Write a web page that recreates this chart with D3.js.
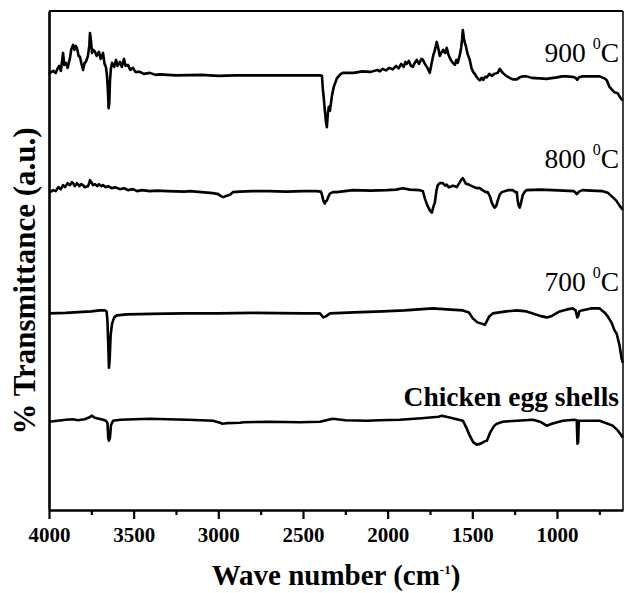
<!DOCTYPE html>
<html>
<head>
<meta charset="utf-8">
<script src="https://cdn.jsdelivr.net/npm/d3@7"></script>
<style>
  body { margin: 0; background: #fff; }
  svg { display: block; font-family: "Liberation Serif", "Times New Roman", serif; }
</style>
</head>
<body>
<script>
// FTIR spectra, [wave number (cm-1), transmittance (a.u.)]
const s900 = [
  [4000, 87.8], [3994, 87.6], [3975, 88.0], [3960, 87.6], [3953, 88.2], [3940, 89.0], [3930, 88.0],
  [3917, 91.6], [3910, 89.2], [3900, 89.6], [3890, 88.6], [3876, 90.6], [3868, 92.4], [3858, 93.2],
  [3850, 92.2], [3842, 93.0], [3835, 92.6], [3825, 91.0], [3817, 90.8], [3808, 89.4], [3799, 88.2],
  [3790, 89.6], [3782, 89.8], [3770, 91.0], [3762, 93.0], [3758, 95.6], [3752, 94.0], [3746, 91.6],
  [3738, 92.2], [3728, 91.8], [3718, 91.0], [3705, 91.8], [3695, 90.4], [3681, 91.6], [3672, 89.4],
  [3664, 88.8], [3658, 87.2], [3652, 84.0], [3648, 80.5], [3644, 81.5], [3640, 86.0], [3634, 88.6],
  [3628, 89.6], [3615, 88.8], [3604, 90.2], [3595, 89.0], [3581, 89.8], [3570, 88.8], [3557, 90.4],
  [3548, 89.0], [3534, 89.2], [3520, 88.2], [3504, 88.6], [3490, 87.8], [3463, 87.8], [3440, 87.4],
  [3404, 87.6], [3370, 87.2], [3345, 87.3], [3250, 87.1], [3100, 87.2], [3000, 87.0], [2900, 87.1],
  [2700, 87.1], [2500, 87.1], [2400, 87.1], [2388, 87.0], [2383, 84.5], [2377, 82.5], [2371, 80.1],
  [2365, 78.0], [2359, 76.7], [2353, 79.5], [2347, 80.8], [2341, 80.0], [2335, 81.5], [2329, 83.0],
  [2318, 84.8], [2300, 86.5], [2280, 87.3], [2265, 87.6], [2200, 87.6], [2150, 87.9], [2100, 87.8],
  [2060, 88.2], [2046, 87.9], [2030, 88.4], [2010, 88.1], [1990, 88.6], [1970, 88.3], [1950, 89.0],
  [1935, 88.5], [1920, 89.4], [1905, 88.8], [1895, 89.8], [1887, 89.4], [1875, 90.0], [1862, 89.0],
  [1851, 88.8], [1840, 89.6], [1828, 90.2], [1815, 89.4], [1800, 90.4], [1792, 90.2], [1780, 89.4],
  [1765, 88.6], [1751, 87.6], [1740, 89.6], [1730, 91.2], [1722, 92.0], [1710, 93.8], [1700, 92.4],
  [1692, 91.0], [1680, 91.8], [1672, 92.2], [1660, 91.6], [1651, 92.6], [1642, 91.4], [1633, 90.6],
  [1620, 89.8], [1603, 89.2], [1594, 90.2], [1586, 89.6], [1575, 91.0], [1566, 92.6], [1560, 94.4],
  [1556, 96.2], [1550, 94.6], [1544, 93.6], [1538, 93.0], [1528, 91.4], [1515, 90.2], [1505, 88.6],
  [1495, 87.8], [1485, 87.4], [1475, 86.8], [1465, 86.4], [1456, 86.1], [1445, 86.6], [1435, 86.2],
  [1425, 86.8], [1414, 86.7], [1400, 87.4], [1385, 87.0], [1370, 87.4], [1350, 87.6], [1338, 88.4],
  [1320, 87.6], [1300, 87.0], [1280, 86.6], [1261, 86.3], [1237, 86.3], [1220, 86.7], [1200, 86.9],
  [1178, 86.9], [1150, 86.6], [1100, 86.5], [1060, 86.4], [1043, 86.5], [1000, 86.7], [970, 86.9],
  [942, 86.9], [910, 86.8], [890, 86.6], [880, 86.2], [870, 86.7], [848, 86.9], [800, 86.9],
  [748, 86.9], [720, 86.5], [706, 86.1], [690, 84.8], [671, 84.1], [660, 83.7], [641, 83.5],
  [625, 82.6], [612, 82.1]
];

const s800 = [
  [4000, 63.7], [3994, 63.7], [3975, 64.1], [3960, 63.9], [3945, 64.7], [3930, 64.3], [3917, 65.1],
  [3905, 64.7], [3890, 65.5], [3876, 65.1], [3865, 65.7], [3858, 65.5], [3848, 64.9], [3835, 65.5],
  [3820, 64.9], [3810, 65.3], [3799, 65.1], [3790, 64.7], [3770, 64.9], [3762, 65.5], [3758, 66.1],
  [3750, 65.7], [3740, 65.1], [3728, 65.3], [3715, 64.9], [3705, 65.3], [3690, 64.9], [3681, 65.1],
  [3665, 64.7], [3650, 64.9], [3630, 64.5], [3610, 64.7], [3581, 64.3], [3557, 64.5], [3534, 64.1],
  [3504, 64.3], [3480, 63.9], [3450, 64.1], [3404, 63.9], [3362, 64.0], [3300, 63.9], [3200, 63.8],
  [3168, 63.9], [3100, 63.7], [3032, 63.5], [3000, 63.3], [2985, 62.9], [2970, 62.7], [2950, 63.0],
  [2930, 63.2], [2914, 63.7], [2873, 63.8], [2800, 63.9], [2700, 63.9], [2600, 63.8], [2500, 63.9],
  [2420, 63.9], [2394, 63.8], [2388, 63.2], [2380, 62.0], [2371, 61.4], [2365, 61.9], [2359, 62.0],
  [2350, 62.8], [2341, 63.4], [2324, 63.7], [2300, 63.7], [2206, 64.1], [2100, 64.0], [2005, 64.1],
  [1950, 64.2], [1910, 64.5], [1870, 64.2], [1810, 64.1], [1792, 63.9], [1780, 62.4], [1765, 61.0],
  [1750, 60.0], [1739, 59.6], [1728, 61.0], [1721, 61.6], [1712, 64.0], [1704, 65.1], [1692, 65.5],
  [1674, 65.5], [1660, 65.0], [1651, 65.2], [1640, 64.7], [1633, 64.7], [1615, 65.0], [1603, 64.9],
  [1592, 64.7], [1575, 65.6], [1565, 66.2], [1556, 66.5], [1548, 66.0], [1538, 65.4], [1525, 65.3],
  [1515, 65.1], [1495, 64.8], [1475, 64.5], [1456, 64.5], [1440, 64.1], [1420, 63.7], [1409, 63.7],
  [1395, 62.8], [1385, 61.6], [1375, 60.9], [1367, 60.6], [1358, 61.0], [1350, 62.0], [1338, 63.2],
  [1326, 63.7], [1290, 64.1], [1261, 64.1], [1245, 63.7], [1237, 63.7], [1232, 62.0], [1226, 61.0],
  [1220, 60.6], [1212, 61.6], [1202, 63.1], [1190, 63.8], [1178, 64.1], [1100, 64.2], [1025, 64.1],
  [960, 64.0], [900, 63.9], [883, 63.3], [870, 63.8], [848, 64.1], [800, 64.0], [730, 63.9],
  [700, 63.6], [671, 62.7], [650, 62.0], [630, 61.0], [612, 60.2]
];

const s700 = [
  [4000, 39.4], [3900, 39.5], [3800, 39.7], [3750, 39.8], [3700, 40.0], [3670, 40.0], [3660, 39.8],
  [3655, 38.0], [3650, 33.0], [3646, 28.5], [3642, 30.0], [3636, 35.0], [3628, 37.3], [3615, 38.6],
  [3600, 39.0], [3540, 39.2], [3400, 39.3], [3200, 39.4], [3000, 39.4], [2800, 39.5], [2500, 39.4],
  [2400, 39.4], [2380, 38.6], [2365, 38.8], [2340, 39.4], [2200, 39.6], [2028, 39.8], [1900, 40.0],
  [1733, 40.4], [1650, 40.2], [1556, 40.0], [1520, 39.6], [1497, 38.4], [1470, 37.6], [1440, 37.3],
  [1426, 37.1], [1415, 37.8], [1400, 38.8], [1379, 39.4], [1300, 39.8], [1237, 40.0], [1180, 39.8],
  [1143, 39.4], [1100, 38.9], [1060, 38.6], [1030, 38.9], [984, 39.8], [940, 40.2], [907, 40.4],
  [890, 40.0], [880, 38.6], [875, 38.8], [868, 39.8], [854, 40.0], [800, 40.4], [748, 40.4],
  [720, 39.6], [700, 38.8], [677, 37.5], [660, 36.0], [647, 35.3], [630, 32.9], [618, 30.3],
  [612, 29.5]
];

const sEgg = [
  [4000, 17.7], [3950, 17.9], [3900, 18.1], [3860, 18.2], [3830, 18.0], [3790, 18.2], [3760, 18.6],
  [3746, 18.9], [3730, 18.5], [3705, 18.3], [3680, 18.1], [3664, 17.9], [3655, 17.5], [3650, 14.5],
  [3646, 13.9], [3640, 14.5], [3634, 17.0], [3622, 17.9], [3580, 18.1], [3404, 18.3], [3300, 18.2],
  [3185, 18.1], [3100, 18.0], [3032, 17.9], [2990, 17.5], [2979, 17.3], [2950, 17.4], [2873, 17.5],
  [2850, 17.6], [2700, 17.7], [2518, 17.6], [2400, 17.7], [2324, 18.3], [2250, 18.0], [2123, 17.9],
  [2050, 18.0], [1928, 18.1], [1800, 18.4], [1700, 18.7], [1680, 18.9], [1640, 18.6], [1556, 17.9],
  [1535, 16.5], [1515, 14.9], [1495, 13.6], [1474, 13.1], [1450, 13.3], [1430, 13.7], [1414, 13.9],
  [1395, 15.5], [1370, 16.9], [1355, 17.3], [1320, 17.7], [1237, 17.9], [1143, 18.1], [1100, 17.7],
  [1060, 16.9], [1030, 17.3], [966, 17.9], [900, 18.1], [883, 18.0], [879, 13.3], [875, 13.5],
  [871, 17.9], [854, 17.9], [748, 17.9], [700, 17.3], [671, 16.9], [640, 15.9], [618, 14.9],
  [612, 14.5]
];

const seriesNames = ["900", "800", "700", "Chicken egg shells"];
const seriesData = [s900, s800, s700, sEgg];
const majorTicks = [4000, 3500, 3000, 2500, 2000, 1500, 1000];
const minorTicks = [3750, 3250, 2750, 2250, 1750, 1250, 750];

const w = 624;
const h = 593;
const m = { left: 49, right: 623, top: 11, bottom: 510 };

const x = d3.scaleLinear().domain([4000, 610]).range([m.left, m.right]);
const y = d3.scaleLinear().domain([0, 100]).range([m.bottom, m.top]);

const svg = d3.select("body").append("svg").attr("width", w).attr("height", h);
svg.append("rect").attr("width", w).attr("height", h).attr("fill", "#fff");

// frame (top + right)
svg.append("line").attr("x1", m.left).attr("x2", m.right).attr("y1", m.top).attr("y2", m.top)
  .attr("stroke", "#000").attr("stroke-width", 2);
svg.append("line").attr("x1", m.right).attr("x2", m.right).attr("y1", m.top).attr("y2", m.bottom)
  .attr("stroke", "#000").attr("stroke-width", 1.5);

// spectra
const line = d3.line().x(d => x(d[0])).y(d => y(d[1]));
svg.append("g").selectAll("path").data(seriesData).enter().append("path")
  .attr("d", line)
  .attr("fill", "none")
  .attr("stroke", "#000")
  .attr("stroke-width", 2.6)
  .attr("stroke-linejoin", "round");

// X axis
const xAxis = d3.axisBottom(x).tickValues(majorTicks).tickSize(9).tickSizeOuter(0).tickFormat(d3.format("d"));
const gx = svg.append("g").attr("transform", "translate(0," + m.bottom + ")").call(xAxis);
gx.select(".domain").attr("stroke-width", 2.6);
gx.selectAll(".tick line").attr("stroke-width", 2.2);
gx.selectAll(".tick text").attr("y", 32).attr("dy", 0)
  .attr("font-family", "Liberation Serif, serif").attr("font-size", 21).attr("font-weight", "bold").attr("fill", "#000");

const xMinor = d3.axisBottom(x).tickValues(minorTicks).tickSize(5).tickSizeOuter(0).tickFormat("");
const gm = svg.append("g").attr("transform", "translate(0," + m.bottom + ")").call(xMinor);
gm.select(".domain").remove();
gm.selectAll(".tick line").attr("stroke-width", 2.2);

// Y axis line (no ticks)
const gy = svg.append("g").attr("transform", "translate(" + m.left + ",0)")
  .call(d3.axisLeft(y).tickValues([]).tickSizeOuter(0));
gy.select(".domain").attr("stroke-width", 2.6);

// series labels
const labelPos = [[62, false], [168, false], [291, false], [406, true]];
seriesNames.forEach((name, i) => {
  const t = svg.append("text")
    .attr("x", 619).attr("y", labelPos[i][0])
    .attr("text-anchor", "end")
    .attr("font-size", 27.5)
    .attr("fill", "#000");
  if (labelPos[i][1]) {
    t.attr("font-weight", "bold").text(name);
  } else {
    t.append("tspan").text(name + " ");
    t.append("tspan").attr("font-size", 16).attr("dy", -13).text("0");
    t.append("tspan").attr("dy", 13).text("C");
  }
});

// axis titles
const xt = svg.append("text")
  .attr("x", (m.left + m.right) / 2).attr("y", 585)
  .attr("text-anchor", "middle").attr("font-size", 29).attr("font-weight", "bold").attr("fill", "#000");
xt.append("tspan").text("Wave number (cm");
xt.append("tspan").attr("font-size", 13).attr("dy", -11).text("-1");
xt.append("tspan").attr("dy", 11).text(")");

svg.append("text")
  .attr("transform", "translate(35,281) rotate(-90)")
  .attr("text-anchor", "middle").attr("font-size", 31).attr("font-weight", "bold").attr("fill", "#000")
  .text("% Transmittance (a.u.)");
</script>
</body>
</html>
